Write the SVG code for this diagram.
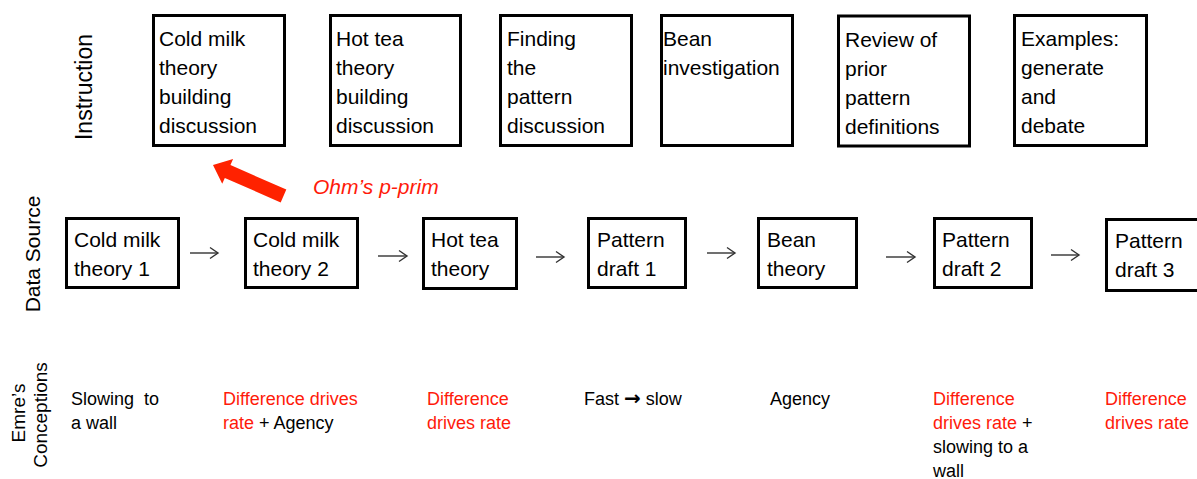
<svg xmlns="http://www.w3.org/2000/svg" width="1197" height="479" viewBox="0 0 1197 479">
  <style>
    text { font-family: "Liberation Sans", Arial, sans-serif; fill: #000; white-space: pre; }
    .box { fill: #fff; stroke: #000; stroke-width: 3; }
    .lbl { font-size: 21px; }
    .row { font-size: 23px; }
    .note { font-size: 18px; }
    .red { fill: #ff1a0a; }
    .step { stroke: #333; stroke-width: 1.4; fill: none; marker-end: url(#chev); }
  </style>
  <defs>
    <marker id="chev" markerUnits="userSpaceOnUse" markerWidth="12" markerHeight="14" viewBox="-10 -7 12 14" refX="0" refY="0" orient="auto">
      <polyline points="-8,-5.5 0,0 -8,5.5" fill="none" stroke="#333" stroke-width="1.4"/>
    </marker>
  </defs>
  <rect width="1197" height="479" fill="#fff"/>

  <!-- row headings -->
  <g id="row-headings">
    <text class="row" text-anchor="middle" transform="translate(92,87) rotate(-90)">Instruction</text>
    <text class="lbl" text-anchor="middle" transform="translate(40,254) rotate(-90)">Data Source</text>
    <text font-size="19" text-anchor="middle" transform="translate(25,413) rotate(-90)">Emre’s</text>
    <text font-size="19" text-anchor="middle" transform="translate(47,415) rotate(-90)">Conceptions</text>
  </g>

  <!-- instruction sessions -->
  <g id="inst-cold-milk">
    <rect class="box" x="153.5" y="15.5" width="131" height="130"/>
    <text class="lbl"><tspan x="159" y="46">Cold milk</tspan><tspan x="159" y="75">theory</tspan><tspan x="159" y="104">building</tspan><tspan x="159" y="133">discussion</tspan></text>
  </g>
  <g id="inst-hot-tea">
    <rect class="box" x="330.5" y="15.5" width="130" height="130"/>
    <text class="lbl"><tspan x="336" y="46">Hot tea</tspan><tspan x="336" y="75">theory</tspan><tspan x="336" y="104">building</tspan><tspan x="336" y="133">discussion</tspan></text>
  </g>
  <g id="inst-finding-pattern">
    <rect class="box" x="500.5" y="15.5" width="131" height="130"/>
    <text class="lbl"><tspan x="507" y="46">Finding</tspan><tspan x="507" y="75">the</tspan><tspan x="507" y="104">pattern</tspan><tspan x="507" y="133">discussion</tspan></text>
  </g>
  <g id="inst-bean">
    <rect class="box" x="661.5" y="15.5" width="131" height="130"/>
    <text class="lbl"><tspan x="663" y="46">Bean</tspan><tspan x="663" y="75">investigation</tspan></text>
  </g>
  <g id="inst-review">
    <rect class="box" x="838.5" y="16" width="131" height="130"/>
    <text class="lbl"><tspan x="845" y="47">Review of</tspan><tspan x="845" y="76">prior</tspan><tspan x="845" y="105">pattern</tspan><tspan x="845" y="134">definitions</tspan></text>
  </g>
  <g id="inst-examples">
    <rect class="box" x="1014.5" y="15.5" width="132" height="130"/>
    <text class="lbl"><tspan x="1021" y="46">Examples:</tspan><tspan x="1021" y="75">generate</tspan><tspan x="1021" y="104">and</tspan><tspan x="1021" y="133">debate</tspan></text>
  </g>

  <!-- data sources -->
  <g id="src-cold-milk-1">
    <rect class="box" x="66.5" y="218.5" width="112" height="69"/>
    <text class="lbl"><tspan x="74" y="247">Cold milk</tspan><tspan x="74" y="276">theory 1</tspan></text>
  </g>
  <g id="src-cold-milk-2">
    <rect class="box" x="245.5" y="218.5" width="112" height="69"/>
    <text class="lbl"><tspan x="253" y="247">Cold milk</tspan><tspan x="253" y="276">theory 2</tspan></text>
  </g>
  <g id="src-hot-tea">
    <rect class="box" x="423.5" y="218.5" width="93" height="70"/>
    <text class="lbl"><tspan x="431" y="247">Hot tea</tspan><tspan x="431" y="276">theory</tspan></text>
  </g>
  <g id="src-pattern-1">
    <rect class="box" x="588.5" y="218.5" width="97" height="69"/>
    <text class="lbl"><tspan x="597" y="247">Pattern</tspan><tspan x="597" y="276">draft 1</tspan></text>
  </g>
  <g id="src-bean">
    <rect class="box" x="758.5" y="218.5" width="98" height="69"/>
    <text class="lbl"><tspan x="767" y="247">Bean</tspan><tspan x="767" y="276">theory</tspan></text>
  </g>
  <g id="src-pattern-2">
    <rect class="box" x="934.5" y="218.5" width="97" height="69"/>
    <text class="lbl"><tspan x="942" y="247">Pattern</tspan><tspan x="942" y="276">draft 2</tspan></text>
  </g>
  <g id="src-pattern-3">
    <rect class="box" x="1106.5" y="219.5" width="100" height="71"/>
    <text class="lbl"><tspan x="1115" y="248">Pattern</tspan><tspan x="1115" y="277">draft 3</tspan></text>
  </g>

  <!-- connectors -->
  <g id="connectors">
    <line class="step" x1="190" y1="253" x2="218" y2="253"/>
    <line class="step" x1="378" y1="256" x2="407" y2="256"/>
    <line class="step" x1="536" y1="257" x2="564" y2="257"/>
    <line class="step" x1="707" y1="253" x2="735" y2="253"/>
    <line class="step" x1="886" y1="257" x2="915" y2="257"/>
    <line class="step" x1="1051" y1="255" x2="1079" y2="255"/>
    <!-- block arrow back to the first instruction session -->
    <polygon fill="#ff2200" transform="translate(283.5,196) rotate(203.7)" points="0,-7 61,-7 61,-13.5 77,0 61,13.5 61,7 0,7"/>
  </g>
  <text id="ohm-label" class="red" x="313" y="194" font-size="21" font-style="italic">Ohm’s p-prim</text>

  <!-- conceptions -->
  <g id="conceptions">
    <text class="note"><tspan x="71" y="405">Slowing  to</tspan><tspan x="71" y="429">a wall</tspan></text>
    <text class="note"><tspan x="223" y="405" class="red">Difference drives</tspan><tspan x="223" y="429"><tspan class="red">rate</tspan> + Agency</tspan></text>
    <text class="note red"><tspan x="427" y="405">Difference</tspan><tspan x="427" y="429">drives rate</tspan></text>
    <text class="note" x="584" y="405">Fast <tspan font-family="DejaVu Sans, sans-serif" font-weight="bold" font-size="20">→</tspan> slow</text>
    <text class="note" x="770" y="405">Agency</text>
    <text class="note"><tspan x="933" y="405" class="red">Difference</tspan><tspan x="933" y="429"><tspan class="red">drives rate</tspan> +</tspan><tspan x="933" y="453">slowing to a</tspan><tspan x="933" y="477">wall</tspan></text>
    <text class="note red"><tspan x="1105" y="405">Difference</tspan><tspan x="1105" y="429">drives rate</tspan></text>
  </g>
</svg>
